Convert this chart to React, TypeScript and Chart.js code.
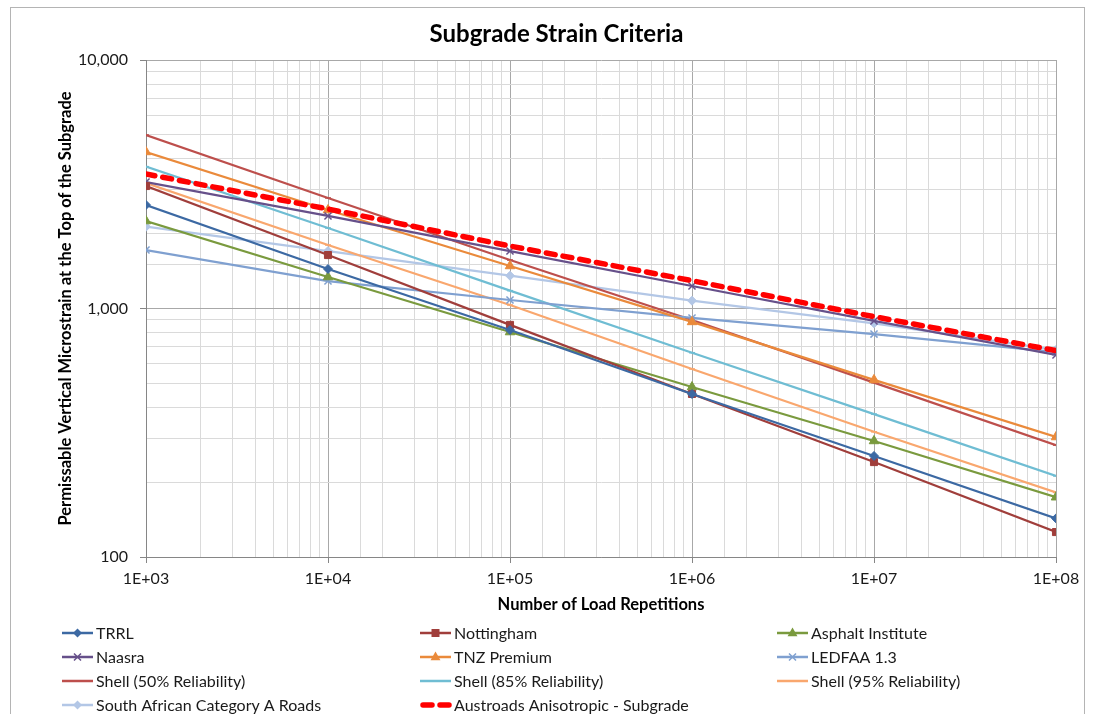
import React, { useEffect, useRef } from "react";
import { Chart, registerables } from "chart.js";

Chart.register(...registerables);

const loadRepetitions = [1e3, 1e4, 1e5, 1e6, 1e7, 1e8];
const trrl = [2610, 1442, 819, 453, 255, 143];
const nottingham = [3111, 1641, 859, 453, 241, 126];
const asphaltInstitute = [2249, 1339, 804, 483, 293, 174];
const naasra = [3228, 2357, 1703, 1232, 891, 650];
const tnzPremium = [4265, 2490, 1483, 883, 516, 304];
const ledfaa = [1719, 1290, 1082, 916, 789, 668];
const shell50 = [4990, 2785, 1567, 899, 503, 282];
const shell85 = [3722, 2108, 1180, 664, 376, 212];
const shell95 = [3199, 1801, 1033, 571, 319, 182];
const southAfrican = [2134, 1703, 1355, 1075, 872, 681];
const austroads = [3477, 2514, 1784, 1294, 927, 677];

const seriesNames = [
  "TRRL",
  "Nottingham",
  "Asphalt Institute",
  "Naasra",
  "TNZ Premium",
  "LEDFAA 1.3",
  "Shell (50% Reliability)",
  "Shell (85% Reliability)",
  "Shell (95% Reliability)",
  "South African Category A Roads",
  "Austroads Anisotropic - Subgrade",
];
const seriesValues = [
  trrl, nottingham, asphaltInstitute, naasra, tnzPremium, ledfaa,
  shell50, shell85, shell95, southAfrican, austroads,
];
const seriesColors = [
  "#3C69A3", "#A03E3B", "#7A9A3E", "#66508A", "#EA8A3B", "#7FA0D0",
  "#BD4F4C", "#6FBDD3", "#F9A76E", "#B3C7E6", "#FF0000",
];
const seriesMarkers = [
  "rectRot", "rect", "triangle", "crossRot", "triangle", "crossRot",
  "line", "line", "line", "rectRot", "none",
];
const seriesMarkerSizes = [4.5, 5, 5.5, 5, 5.5, 5, 3, 3, 3, 4.5, 0];

const FONT = "Lato, 'Open Sans', sans-serif";

function drawMarker(ctx: CanvasRenderingContext2D, style: string, x: number, y: number, r: number, color: string) {
  ctx.save();
  ctx.fillStyle = color;
  ctx.strokeStyle = color;
  ctx.setLineDash([]);
  ctx.lineWidth = 1.5;
  ctx.beginPath();
  if (style === "rectRot") {
    ctx.moveTo(x, y - r); ctx.lineTo(x + r, y); ctx.lineTo(x, y + r); ctx.lineTo(x - r, y); ctx.closePath(); ctx.fill();
  } else if (style === "rect") {
    ctx.rect(x - r * 0.8, y - r * 0.8, r * 1.6, r * 1.6); ctx.fill();
  } else if (style === "triangle") {
    ctx.moveTo(x, y - r); ctx.lineTo(x + r * 0.9, y + r * 0.6); ctx.lineTo(x - r * 0.9, y + r * 0.6); ctx.closePath(); ctx.fill();
  } else if (style === "crossRot") {
    const d = r * 0.7;
    ctx.moveTo(x - d, y - d); ctx.lineTo(x + d, y + d); ctx.moveTo(x + d, y - d); ctx.lineTo(x - d, y + d); ctx.stroke();
  }
  ctx.restore();
}

const legendPlugin = {
  id: "gridLegend",
  beforeDraw(chart: any) {
    const ctx = chart.ctx as CanvasRenderingContext2D;
    ctx.save();
    ctx.fillStyle = "#FFFFFF";
    ctx.fillRect(0, 0, chart.width, chart.height);
    ctx.strokeStyle = "#B4B4B4";
    ctx.lineWidth = 1;
    ctx.strokeRect(10.5, 7.5, 1074, 720);
    ctx.restore();
  },
  afterDraw(chart: any) {
    const ctx = chart.ctx as CanvasRenderingContext2D;
    const colX = [62, 420, 777];
    const rowY = [633, 657, 681, 705];
    ctx.save();
    ctx.font = `16px ${FONT}`;
    ctx.textBaseline = "middle";
    ctx.textAlign = "left";
    chart.data.datasets.forEach((ds: any, i: number) => {
      const cx = colX[i % 3];
      const cy = rowY[Math.floor(i / 3)];
      ctx.save();
      ctx.strokeStyle = ds.borderColor;
      ctx.lineWidth = i === 10 ? 5.5 : 2.5;
      if (i === 10) {
        ctx.setLineDash([9, 8]);
        ctx.lineCap = "round";
      }
      ctx.beginPath();
      ctx.moveTo(i === 10 ? cx + 3 : cx, cy);
      ctx.lineTo(cx + 31, cy);
      ctx.stroke();
      ctx.restore();
      if (seriesMarkers[i] !== "line" && seriesMarkers[i] !== "none") {
        drawMarker(ctx, seriesMarkers[i], cx + 15.5, cy, seriesMarkerSizes[i], ds.borderColor);
      }
      ctx.fillStyle = "#1A1A1A";
      ctx.fillText(ds.label, cx + 34, cy + 1);
    });
    ctx.restore();
  },
};

const isMajor = (v: number) => Math.abs(Math.log10(v) - Math.round(Math.log10(v))) < 1e-9;

export default function App() {
  const canvasRef = useRef<HTMLCanvasElement | null>(null);

  useEffect(() => {
    if (!canvasRef.current) return;
    const datasets = seriesNames.map((name, i) => ({
      label: name,
      data: loadRepetitions.map((n, j) => ({ x: n, y: seriesValues[i][j] })),
      borderColor: seriesColors[i],
      backgroundColor: seriesColors[i],
      borderWidth: i === 10 ? 5.5 : 2.25,
      borderDash: i === 10 ? [9, 8] : [],
      borderCapStyle: i === 10 ? "round" : "butt",
      pointStyle: seriesMarkers[i] === "none" ? false : seriesMarkers[i],
      pointRadius: seriesMarkerSizes[i],
      pointBorderWidth: seriesMarkers[i] === "crossRot" || seriesMarkers[i] === "line" ? 1.5 : 1,
      pointBackgroundColor: seriesColors[i],
      pointBorderColor: seriesColors[i],
      tension: 0,
      order: i === 10 ? 0 : 1,
    }));

    const chart = new Chart(canvasRef.current, {
      type: "line",
      data: { datasets: datasets as any },
      plugins: [legendPlugin],
      options: {
        responsive: false,
        animation: false,
        devicePixelRatio: 1,
        layout: { padding: { left: 50, right: 37, top: 60, bottom: 97 } },
        plugins: {
          legend: { display: false },
          tooltip: { enabled: false },
          title: { display: false },
        },
        scales: {
          x: {
            type: "logarithmic",
            min: 1e3,
            max: 1e8,
            afterFit: (s: any) => { s.height = 60; },
            grid: {
              color: (c: any) => (c.tick && isMajor(c.tick.value) ? "#A8A8A8" : "#DADADA"),
              tickColor: (c: any) => (c.tick && isMajor(c.tick.value) ? "#868686" : "rgba(0,0,0,0)"),
              tickLength: 6,
              lineWidth: 1,
            },
            border: { color: "#868686" },
            ticks: {
              autoSkip: false,
              maxRotation: 0,
              padding: 6,
              color: "#1A1A1A",
              font: { family: FONT, size: 16 },
              callback: (v: any) => {
                const n = Number(v);
                if (!isMajor(n)) return "";
                const e = Math.round(Math.log10(n));
                return "1E+" + (e < 10 ? "0" + e : String(e));
              },
            },
            title: {
              display: true,
              text: "Number of Load Repetitions",
              color: "#000000",
              font: { family: FONT, size: 16.5, weight: "bold" },
              padding: { top: 0, bottom: 2 },
            },
          },
          y: {
            type: "logarithmic",
            min: 100,
            max: 10000,
            afterFit: (s: any) => { s.width = 96; },
            grid: {
              color: (c: any) => (c.tick && isMajor(c.tick.value) ? "#A8A8A8" : "#DADADA"),
              tickColor: (c: any) => (c.tick && isMajor(c.tick.value) ? "#868686" : "rgba(0,0,0,0)"),
              tickLength: 6,
              lineWidth: 1,
            },
            border: { color: "#868686" },
            ticks: {
              autoSkip: false,
              padding: 12,
              color: "#1A1A1A",
              font: { family: FONT, size: 16 },
              callback: (v: any) => {
                const n = Number(v);
                if (!isMajor(n)) return "";
                return Math.round(n).toLocaleString("en-US");
              },
            },
            title: {
              display: true,
              text: "Permissable Vertical Microstrain at the Top of the Subgrade",
              color: "#000000",
              font: { family: FONT, size: 16.5, weight: "bold" },
              padding: { top: 6, bottom: 0 },
            },
          },
        },
      },
    });
    return () => chart.destroy();
  }, []);

  return (
    <div style={{ position: "absolute", left: 0, top: 0, width: 1093, height: 714, background: "#fff" }}>
      <canvas ref={canvasRef} width={1093} height={714} style={{ display: "block" }} />
      <div
        style={{
          position: "absolute",
          left: 0,
          top: 18,
          width: 1113,
          textAlign: "center",
          fontFamily: FONT,
          fontWeight: "bold",
          fontSize: 24,
          color: "#000",
          lineHeight: "30px",
          pointerEvents: "none",
        }}
      >
        Subgrade Strain Criteria
      </div>
    </div>
  );
}
